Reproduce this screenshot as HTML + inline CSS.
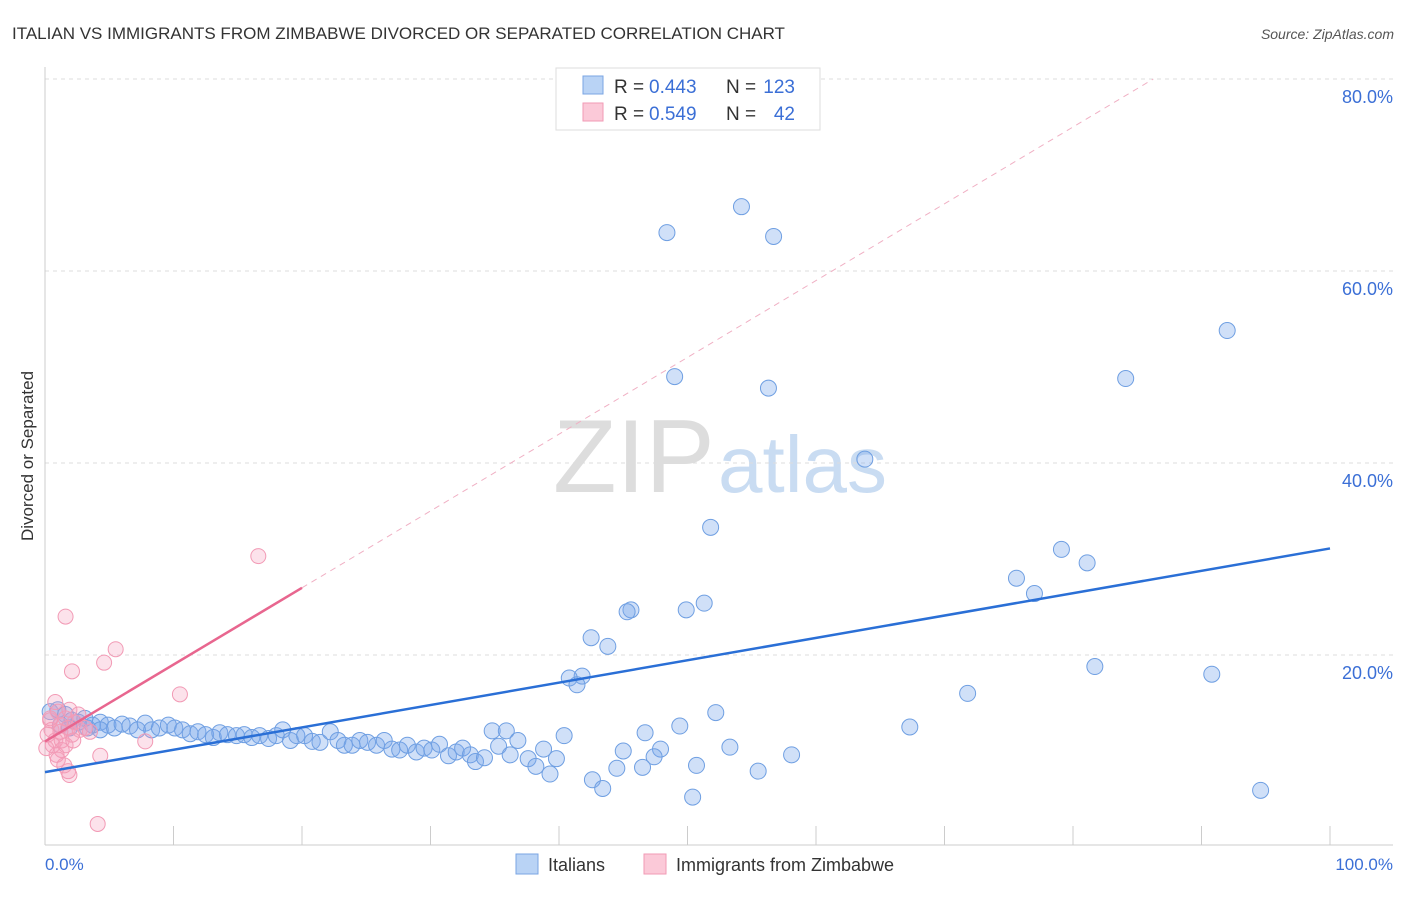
<!DOCTYPE html>
<html><head><meta charset="utf-8"><style>
body{margin:0;background:#fff;font-family:"Liberation Sans",sans-serif}
svg text{font-family:"Liberation Sans",sans-serif}
</style></head><body>
<svg id="chart" width="1406" height="892" viewBox="0 0 1406 892" xmlns="http://www.w3.org/2000/svg">
<text x="12" y="39" font-size="17" fill="#333">ITALIAN VS IMMIGRANTS FROM ZIMBABWE DIVORCED OR SEPARATED CORRELATION CHART</text>
<text x="1394" y="39" font-size="14" fill="#555" font-style="italic" text-anchor="end">Source: ZipAtlas.com</text>
<g>
<text x="553" y="492" font-size="104" fill="#ddd" font-family="Liberation Serif,serif">ZIP</text>
<text x="718" y="492" font-size="80" fill="#c9dcf2">atlas</text>
</g>
<g id="grid"></g>
<line x1="45" y1="67" x2="45" y2="845" stroke="#ccc"/>
<line x1="45" y1="845" x2="1393" y2="845" stroke="#ccc"/>
<text transform="translate(33,456) rotate(-90)" font-size="17" fill="#333" text-anchor="middle">Divorced or Separated</text>
<text x="45" y="870" font-size="17" fill="#3b6fd6">0.0%</text>
<text x="1393" y="870" font-size="17" fill="#3b6fd6" text-anchor="end">100.0%</text>
<g id="lines"></g>
<g id="points"></g>
<g>
<rect x="556" y="68" width="264" height="62" fill="#fff" stroke="#ddd"/>
<rect x="583" y="76" width="20" height="18" fill="#b9d3f5" stroke="#7aa5e3"/>
<rect x="583" y="103" width="20" height="18" fill="#fbc9d8" stroke="#f29ab5"/>
<text x="614" y="93" font-size="19" fill="#333">R =</text>
<text x="649" y="93" font-size="19" fill="#3b6fd6">0.443</text>
<text x="726" y="93" font-size="19" fill="#333">N =</text>
<text x="795" y="93" font-size="19" fill="#3b6fd6" text-anchor="end">123</text>
<text x="614" y="120" font-size="19" fill="#333">R =</text>
<text x="649" y="120" font-size="19" fill="#3b6fd6">0.549</text>
<text x="726" y="120" font-size="19" fill="#333">N =</text>
<text x="795" y="120" font-size="19" fill="#3b6fd6" text-anchor="end">42</text>
</g>
<g>
<rect x="516" y="854" width="22" height="20" fill="#b9d3f5" stroke="#7aa5e3"/>
<text x="548" y="871" font-size="18" fill="#333">Italians</text>
<rect x="644" y="854" width="22" height="20" fill="#fbc9d8" stroke="#f29ab5"/>
<text x="676" y="871" font-size="18" fill="#333">Immigrants from Zimbabwe</text>
</g>
</svg>
<script>
const yTicks=[20,40,60,80];
const yTickLabels=["20.0%","40.0%","60.0%","80.0%"];
const xTicks=[0,10,20,30,40,50,60,70,80,90,100];
const blueX=[54.2,48.4,56.7,92,49,56.3,84.1,63.8,51.8,79.1,81.1,75.6,77,51.3,49.9,45.6,45.3,42.5,43.8,81.7,90.8,41.8,40.8,41.4,71.8,67.3,52.2,49.4,46.7,40.4,34.8,35.9,53.3,47.9,45,58.1,47.4,50.7,55.5,46.5,44.5,42.6,43.4,50.4,94.6,
0.4,1.0,1.6,2.1,2.6,3.1,3.7,4.3,4.9,5.4,6.0,6.6,7.2,7.8,8.3,8.9,9.6,10.1,10.7,11.3,11.9,12.5,13.1,13.6,14.2,14.9,15.5,16.1,16.7,17.4,18.0,18.5,19.1,19.6,20.2,20.8,21.4,22.2,22.8,23.3,23.9,24.5,25.1,25.8,26.4,27.0,27.6,28.2,28.9,29.5,30.1,30.7,31.4,32.0,32.5,33.1,33.5,34.2,35.3,36.2,36.8,37.6,38.2,38.8,39.3,39.8,4.3,1.9,1.2,3.3];
const blueY=[66.7,64,63.6,53.8,49,47.8,48.8,40.4,33.3,31,29.6,28,26.4,25.4,24.7,24.7,24.5,21.8,20.9,18.8,18,17.8,17.6,16.9,16,12.5,14,12.6,11.9,11.6,12.1,12.1,10.4,10.2,10,9.6,9.4,8.5,7.9,8.3,8.2,7,6.1,5.2,5.9,
14.1,14.3,13.8,13.2,13.0,13.4,12.7,13.0,12.7,12.4,12.8,12.6,12.2,12.9,12.2,12.4,12.7,12.4,12.2,11.8,12.0,11.7,11.4,11.9,11.7,11.6,11.7,11.4,11.6,11.3,11.6,12.2,11.1,11.6,11.6,11.0,10.9,12.0,11.1,10.6,10.6,11.1,10.9,10.6,11.1,10.2,10.1,10.6,9.9,10.3,10.1,10.7,9.5,9.9,10.3,9.6,8.9,9.3,10.5,9.6,11.1,9.2,8.4,10.2,7.6,9.2,12.2,12.4,12.7,12.4];
const pinkX=[1.6,16.6,5.5,4.6,2.1,10.5,0.8,7.8,4.3,1.8,1.9,4.1,0.4,0.5,0.8,1,1.2,0.2,1.3,0.9,1.6,1.8,2.1,2.3,2.7,0.6,1,1.3,1.6,1.9,2.6,3.1,3.5,0.1,0.4,1.2,2.2,1.5];
const pinkY=[24,30.3,20.6,19.2,18.3,15.9,15.1,11,9.5,7.9,7.5,2.4,13.2,12.2,11.1,14.1,12.7,11.7,10.1,9.6,13.4,12.4,11.7,13,12.2,10.6,9.1,11.1,10.6,14.3,13.8,12.4,12,10.3,13.4,12,11.1,8.5];
const blueFit=[7.8,31.1];
const pinkFit=[11,0.8];
const NS="http://www.w3.org/2000/svg";
const sx=v=>45+v*12.85, sy=v=>847-v*9.6;
function mk(t,a,p){const e=document.createElementNS(NS,t);for(const k in a)e.setAttribute(k,a[k]);p.appendChild(e);return e;}
const grid=document.getElementById('grid');
yTicks.forEach((t,i)=>{
 const l=mk('line',{x1:45,x2:1393,y1:sy(t),y2:sy(t),stroke:'#ddd','stroke-dasharray':'4,4'},grid);
 
 
 const tx=mk('text',{x:1393,y:sy(t)+24,'font-size':18,fill:'#3b6fd6','text-anchor':'end'},grid);
 tx.textContent=yTickLabels[i];
 
 
});
xTicks.forEach(t=>{
 const l=mk('line',{x1:sx(t),x2:sx(t),y1:826,y2:845,stroke:'#ccc'},grid);
 
 
});
const lines=document.getElementById('lines');
const pts=document.getElementById('points');
blueX.forEach((x,i)=>{
 const c=mk('circle',{cx:sx(x),cy:sy(blueY[i]),r:8,fill:'rgba(120,165,235,0.35)',stroke:'#6f9fe2','stroke-width':1},pts);
 
 
});
pinkX.forEach((x,i)=>{
 const c=mk('circle',{cx:sx(x),cy:sy(pinkY[i]),r:7.5,fill:'rgba(245,160,190,0.3)',stroke:'#f29ab5','stroke-width':1},pts);
 
 
});
const bl=mk('line',{x1:sx(0),y1:sy(blueFit[0]),x2:sx(100),y2:sy(blueFit[1]),stroke:'#2a6fd6','stroke-width':2.5},pts);


const pe=(80-pinkFit[0])/pinkFit[1];
const pd=mk('line',{x1:sx(20),y1:sy(pinkFit[0]+pinkFit[1]*20),x2:sx(pe),y2:sy(80),stroke:'#f0b0c4','stroke-width':1,'stroke-dasharray':'6,5'},lines);


const pl=mk('line',{x1:sx(0),y1:sy(pinkFit[0]),x2:sx(20),y2:sy(pinkFit[0]+pinkFit[1]*20),stroke:'#e8668f','stroke-width':2.5},pts);


</script>
</body></html>
